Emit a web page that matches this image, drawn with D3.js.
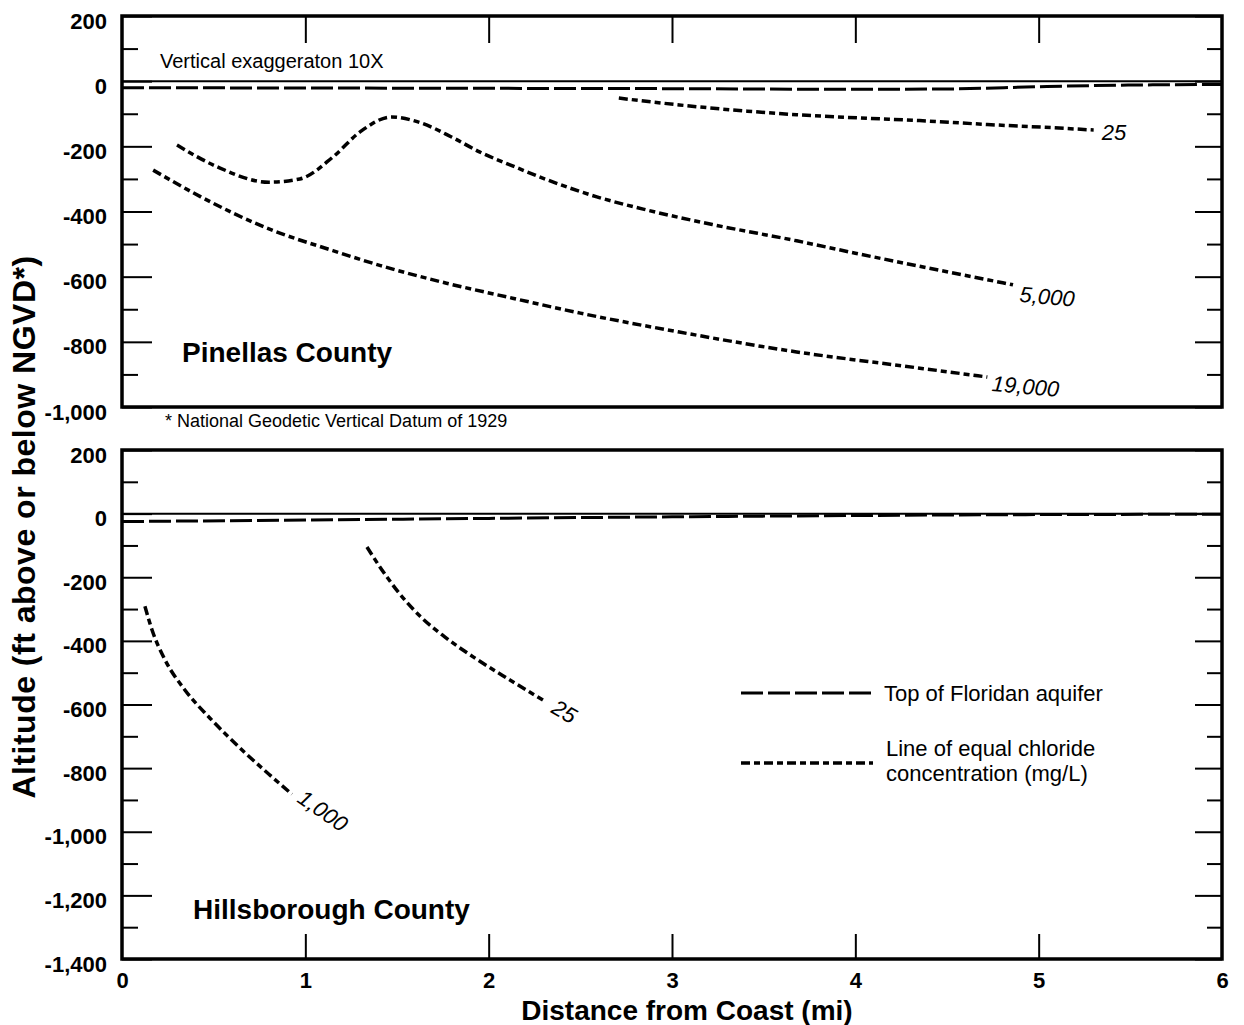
<!DOCTYPE html>
<html>
<head>
<meta charset="utf-8">
<script src="https://cdn.jsdelivr.net/npm/d3@7"></script>
<style>
  body { margin: 0; background: #fff; }
  svg { display: block; }
  text { font-family: "Liberation Sans", Arial, Helvetica, sans-serif; fill: #000; }
  .tick line { stroke: #000; stroke-width: 2; }
  .domain { display: none; }
</style>
</head>
<body>
<svg id="chart" width="1244" height="1025"></svg>
<script>
// ---- data (miles from coast, ft relative to NGVD) ----
var xTickLabels = [0, 1, 2, 3, 4, 5, 6];
var xTickMarks = [1, 2, 3, 4, 5];

var pinellasMajor = [200, 0, -200, -400, -600, -800, -1000];
var pinellasMinor = [100, -100, -300, -500, -700, -900];
var hillsMajor = [200, 0, -200, -400, -600, -800, -1000, -1200, -1400];
var hillsMinor = [100, -100, -300, -500, -700, -900, -1100, -1300];

var pinellasAquifer = [[0, -20], [1, -21], [2, -22], [3, -23], [4, -25], [4.5, -24], [5, -17], [5.5, -12], [6, -10]];
var pinellas25 = [[2.71, -52], [3.04, -73], [3.41, -92], [3.68, -103], [4.03, -113], [4.35, -121], [4.72, -133], [5.08, -143], [5.30, -150]];
var pinellas5000 = [[0.30, -196], [0.52, -263], [0.80, -310], [0.97, -300], [1.15, -233], [1.30, -155], [1.47, -110],
    [1.63, -128], [1.80, -172], [1.95, -217], [2.13, -260], [2.32, -303], [2.59, -355], [2.86, -395], [3.22, -440],
    [3.68, -490], [4.0, -528], [4.35, -568], [4.86, -625]];
var pinellas19000 = [[0.17, -273], [0.43, -355], [0.79, -451], [1.15, -520], [1.41, -566], [1.77, -620], [2.13, -666],
    [2.50, -712], [3.04, -770], [3.68, -831], [4.26, -874], [4.72, -908]];

var hillsAquifer = [[0, -25], [1, -20], [2, -15], [3, -10], [4, -6], [5, -3], [6, -2]];
var hills25 = [[1.336, -105], [1.418, -177], [1.516, -253], [1.625, -322], [1.762, -388], [1.925, -454], [2.116, -523], [2.296, -586]];
var hills1000 = [[0.125, -291], [0.164, -366], [0.235, -460], [0.344, -555], [0.48, -643], [0.644, -737], [0.807, -822], [0.927, -882]];

// ---- layout ----
var left = 122, right = 1222,
    aquiferDash = '22,5',
    chlorideDash = '9,4,6,4';

var svg = d3.select('#chart');

var x = d3.scaleLinear().domain([0, 6]).range([left, right]);

var fmt = function(d) { return d3.format(',')(d).replace('\u2212', '-'); };

function panel(opts) {
    var y = d3.scaleLinear().domain(opts.domain).range(opts.range),
        g = svg.append('g');

    // left ticks (inward) with labels outside
    g.append('g')
        .attr('transform', 'translate(' + left + ',0)')
        .call(d3.axisLeft(y).tickValues(opts.major).tickSizeInner(-30).tickSizeOuter(0).tickPadding(15).tickFormat(fmt))
        .selectAll('text')
        .attr('dy', '0.55em')
        .style('font-size', '22px')
        .style('font-weight', 'bold');
    g.append('g')
        .attr('transform', 'translate(' + left + ',0)')
        .call(d3.axisLeft(y).tickValues(opts.minor).tickSizeInner(-16).tickSizeOuter(0).tickFormat(''));

    // right ticks
    g.append('g')
        .attr('transform', 'translate(' + right + ',0)')
        .call(d3.axisRight(y).tickValues(opts.major).tickSizeInner(-27).tickSizeOuter(0).tickFormat(''));
    g.append('g')
        .attr('transform', 'translate(' + right + ',0)')
        .call(d3.axisRight(y).tickValues(opts.minor).tickSizeInner(-15).tickSizeOuter(0).tickFormat(''));

    // sea level
    g.append('line')
        .attr('x1', x(0)).attr('x2', x(6))
        .attr('y1', y(0)).attr('y2', y(0))
        .attr('stroke', '#000').attr('stroke-width', 2);

    var line = d3.line()
        .x(function(d) { return x(d[0]); })
        .y(function(d) { return y(d[1]); })
        .curve(d3.curveMonotoneX);

    g.append('path')
        .attr('d', line(opts.aquifer))
        .attr('fill', 'none').attr('stroke', '#000')
        .attr('stroke-width', 3).attr('stroke-dasharray', aquiferDash);

    opts.contours.forEach(function(c) {
        g.append('path')
            .attr('d', line(c.data))
            .attr('fill', 'none').attr('stroke', '#000')
            .attr('stroke-width', 3.5).attr('stroke-dasharray', chlorideDash);

        var end = c.data[c.data.length - 1];
        g.append('text')
            .attr('transform', 'translate(' + (x(end[0]) + c.dx) + ',' + (y(end[1]) + c.dy) + ') rotate(' + c.rot + ')')
            .style('font-size', '22px')
            .style('font-style', 'italic')
            .text(c.label);
    });

    // frame
    g.append('rect')
        .attr('x', left).attr('y', y(opts.domain[1]))
        .attr('width', right - left).attr('height', y(opts.domain[0]) - y(opts.domain[1]))
        .attr('fill', 'none').attr('stroke', '#000').attr('stroke-width', 3.5);

    return { g: g, y: y };
}

var topPanel = panel({
    domain: [-1000, 200], range: [407, 16],
    major: pinellasMajor, minor: pinellasMinor,
    aquifer: pinellasAquifer,
    contours: [
        { data: pinellas25, label: '25', dx: 8, dy: 10, rot: 0 },
        { data: pinellas5000, label: '5,000', dx: 6, dy: 17, rot: 5 },
        { data: pinellas19000, label: '19,000', dx: 4, dy: 14, rot: 5 }
    ]
});

topPanel.g.append('g')
    .attr('transform', 'translate(0,' + topPanel.y(200) + ')')
    .call(d3.axisTop(x).tickValues(xTickMarks).tickSizeInner(-27).tickSizeOuter(0).tickFormat(''));

var bottomPanel = panel({
    domain: [-1400, 200], range: [959, 450],
    major: hillsMajor, minor: hillsMinor,
    aquifer: hillsAquifer,
    contours: [
        { data: hills25, label: '25', dx: 7, dy: 12, rot: 30 },
        { data: hills1000, label: '1,000', dx: 4, dy: 7, rot: 35 }
    ]
});

bottomPanel.g.append('g')
    .attr('transform', 'translate(0,' + bottomPanel.y(-1400) + ')')
    .call(d3.axisBottom(x).tickValues(xTickMarks).tickSizeInner(-25).tickSizeOuter(0).tickFormat(''));
bottomPanel.g.append('g')
    .attr('transform', 'translate(0,' + bottomPanel.y(-1400) + ')')
    .call(d3.axisBottom(x).tickValues(xTickLabels).tickSize(0).tickPadding(13).tickFormat(d3.format('d')))
    .selectAll('text')
    .style('font-size', '22px')
    .style('font-weight', 'bold');

// ---- annotations ----
svg.append('text')
    .attr('x', 160).attr('y', 68)
    .style('font-size', '20px')
    .text('Vertical exaggeraton 10X');

svg.append('text')
    .attr('x', 182).attr('y', 362)
    .style('font-size', '28px').style('font-weight', 'bold')
    .text('Pinellas County');

svg.append('text')
    .attr('x', 193).attr('y', 919)
    .style('font-size', '28px').style('font-weight', 'bold')
    .text('Hillsborough County');

svg.append('text')
    .attr('x', 165).attr('y', 427)
    .style('font-size', '18px')
    .text('* National Geodetic Vertical Datum of 1929');

// axis titles
svg.append('text')
    .attr('x', 687).attr('y', 1020)
    .attr('text-anchor', 'middle')
    .style('font-size', '28px').style('font-weight', 'bold')
    .text('Distance from Coast (mi)');

svg.append('text')
    .attr('transform', 'translate(35,527) rotate(-90)')
    .attr('text-anchor', 'middle')
    .style('font-size', '32px').style('font-weight', 'bold')
    .style('letter-spacing', '0.5px')
    .text('Altitude (ft above or below NGVD*)');

// ---- legend ----
var legend = svg.append('g').attr('class', 'legend');

legend.append('line')
    .attr('x1', 741).attr('x2', 873).attr('y1', 693).attr('y2', 693)
    .attr('stroke', '#000').attr('stroke-width', 3).attr('stroke-dasharray', aquiferDash);
legend.append('text')
    .attr('x', 884).attr('y', 701)
    .style('font-size', '22px')
    .text('Top of Floridan aquifer');

legend.append('line')
    .attr('x1', 741).attr('x2', 873).attr('y1', 763).attr('y2', 763)
    .attr('stroke', '#000').attr('stroke-width', 3.5).attr('stroke-dasharray', chlorideDash);
legend.append('text')
    .attr('x', 886).attr('y', 756)
    .style('font-size', '22px')
    .text('Line of equal chloride');
legend.append('text')
    .attr('x', 886).attr('y', 781)
    .style('font-size', '22px')
    .text('concentration (mg/L)');
</script>
</body>
</html>
